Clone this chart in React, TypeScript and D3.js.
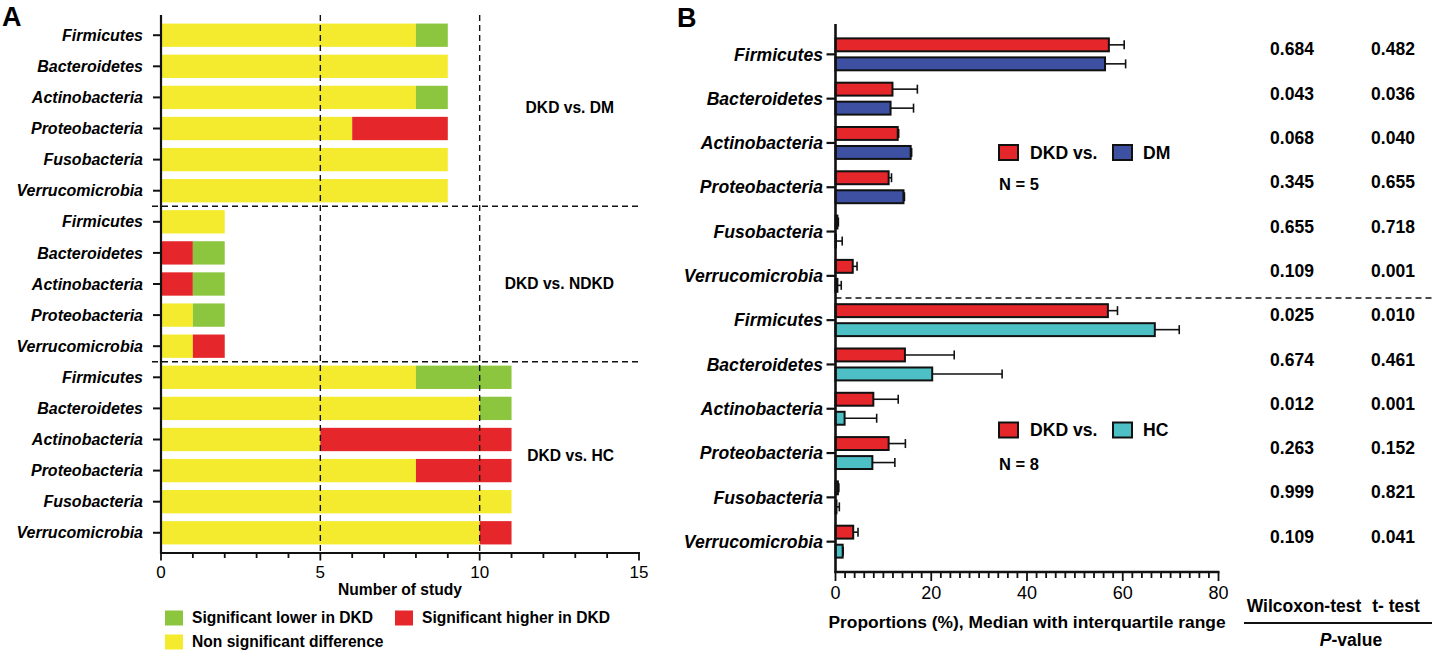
import * as d3 from 'd3'

const FONT = '"Liberation Sans", Arial, Helvetica, sans-serif'

// ---- Panel A: number of studies per outcome ----
const comparisons = ['DKD vs. DM', 'DKD vs. NDKD', 'DKD vs. HC']
const phylaDM = ['Firmicutes', 'Bacteroidetes', 'Actinobacteria', 'Proteobacteria', 'Fusobacteria', 'Verrucomicrobia']
const phylaNDKD = ['Firmicutes', 'Bacteroidetes', 'Actinobacteria', 'Proteobacteria', 'Verrucomicrobia']
const phylaHC = ['Firmicutes', 'Bacteroidetes', 'Actinobacteria', 'Proteobacteria', 'Fusobacteria', 'Verrucomicrobia']

const nonSigDM = [8, 9, 8, 6, 9, 9]
const higherDM = [0, 0, 0, 3, 0, 0]
const lowerDM = [1, 0, 1, 0, 0, 0]
const nonSigNDKD = [2, 0, 0, 1, 1]
const higherNDKD = [0, 1, 1, 0, 1]
const lowerNDKD = [0, 1, 1, 1, 0]
const nonSigHC = [8, 10, 5, 8, 11, 10]
const higherHC = [0, 0, 6, 3, 0, 1]
const lowerHC = [3, 1, 0, 0, 0, 0]

const xTicksA = [0, 5, 10, 15]
const legendA = [
  { key: 'lower', label: 'Significant lower in DKD' },
  { key: 'higher', label: 'Significant higher in DKD' },
  { key: 'nonSig', label: 'Non significant difference' }
]
const colorA: Record<string, string> = { nonSig: '#f4eb2f', higher: '#e5262b', lower: '#8cc63f' }

// ---- Panel B: proportions (median, upper quartile) ----
const phylaB = ['Firmicutes', 'Bacteroidetes', 'Actinobacteria', 'Proteobacteria', 'Fusobacteria', 'Verrucomicrobia']
const dkdVsDM = [57.1, 11.9, 13.0, 11.1, 0.4, 3.6]
const dkdVsDMq3 = [60.3, 17.1, 13.2, 11.7, 0.6, 4.5]
const dm = [56.3, 11.5, 15.7, 14.2, 0.1, 0.4]
const dmQ3 = [60.6, 16.3, 15.9, 14.4, 1.4, 1.2]
const dkdVsHC = [56.9, 14.5, 7.9, 11.1, 0.5, 3.7]
const dkdVsHCq3 = [58.9, 24.8, 13.1, 14.6, 0.7, 4.7]
const hc = [66.7, 20.2, 1.9, 7.7, 0.2, 1.5]
const hcQ3 = [71.8, 34.8, 8.6, 12.4, 0.8, 1.6]

const wilcoxonDM = ['0.684', '0.043', '0.068', '0.345', '0.655', '0.109']
const tTestDM = ['0.482', '0.036', '0.040', '0.655', '0.718', '0.001']
const wilcoxonHC = ['0.025', '0.674', '0.012', '0.263', '0.999', '0.109']
const tTestHC = ['0.010', '0.461', '0.001', '0.152', '0.821', '0.041']

const xTicksB = [0, 20, 40, 60, 80]
const controlNames = ['DM', 'HC']
const sampleSizes = ['N = 5', 'N = 8']
const colorDKD = '#e5262b'
const colorCtrl = ['#3d50a2', '#4dc0c6']

type RowA = { group: number; phylum: string; nonSig: number; higher: number; lower: number }

const rowsA: RowA[] = [
  ...phylaDM.map((p, i) => ({ group: 0, phylum: p, nonSig: nonSigDM[i], higher: higherDM[i], lower: lowerDM[i] })),
  ...phylaNDKD.map((p, i) => ({ group: 1, phylum: p, nonSig: nonSigNDKD[i], higher: higherNDKD[i], lower: lowerNDKD[i] })),
  ...phylaHC.map((p, i) => ({ group: 2, phylum: p, nonSig: nonSigHC[i], higher: higherHC[i], lower: lowerHC[i] }))
]

const rowsB = [
  ...phylaB.map((p, i) => ({ group: 0, phylum: p, dkd: dkdVsDM[i], dkdQ3: dkdVsDMq3[i], ctrl: dm[i], ctrlQ3: dmQ3[i], w: wilcoxonDM[i], t: tTestDM[i] })),
  ...phylaB.map((p, i) => ({ group: 1, phylum: p, dkd: dkdVsHC[i], dkdQ3: dkdVsHCq3[i], ctrl: hc[i], ctrlQ3: hcQ3[i], w: wilcoxonHC[i], t: tTestHC[i] }))
]

function PanelA() {
  const top = 15
  const bottom = 553
  const x = d3.scaleLinear().domain([0, 15]).range([161, 639])
  const y = d3.scaleBand<string>()
    .domain(rowsA.map((_, i) => String(i)))
    .range([top, bottom])
    .paddingInner(0.25)
    .paddingOuter(0.275)
  const bw = y.bandwidth()
  const stack = d3.stack<RowA>().keys(['nonSig', 'higher', 'lower'])
  const series = stack(rowsA)

  // dashed separators between groups
  const separators: number[] = []
  rowsA.forEach((r, i) => {
    if (i > 0 && rowsA[i - 1].group !== r.group) {
      separators.push(((y(String(i - 1)) as number) + bw + (y(String(i)) as number)) / 2)
    }
  })

  const groupLabelY = [108, 284, 456]
  const minor = d3.range(0, 16)

  return (
    <g fontFamily={FONT}>
      <text x={2} y={26} fontSize={27} fontWeight="bold">A</text>

      {series.map(s => (
        <g key={s.key} fill={colorA[s.key]}>
          {s.map((d, i) => d[1] > d[0] ? (
            <rect key={i} x={x(d[0])} y={y(String(i))} width={x(d[1]) - x(d[0])} height={bw} />
          ) : null)}
        </g>
      ))}

      {[5, 10].map(v => (
        <line key={v} x1={x(v)} x2={x(v)} y1={top} y2={bottom} stroke="#111" strokeWidth={1.4} strokeDasharray="6,4" />
      ))}
      {separators.map((sy, i) => (
        <line key={i} x1={152} x2={x(15)} y1={sy} y2={sy} stroke="#111" strokeWidth={1.4} strokeDasharray="6,4" />
      ))}

      {/* y axis */}
      <line x1={x(0)} x2={x(0)} y1={top} y2={bottom + 1} stroke="#111" strokeWidth={2.2} />
      {rowsA.map((r, i) => {
        const cy = (y(String(i)) as number) + bw / 2
        return (
          <g key={i}>
            <line x1={x(0) - 8} x2={x(0)} y1={cy} y2={cy} stroke="#111" strokeWidth={2} />
            <text x={143} y={cy} dy="0.35em" textAnchor="end" fontSize={16} fontWeight="bold" fontStyle="italic">{r.phylum}</text>
          </g>
        )
      })}

      {/* x axis */}
      <line x1={x(0) - 1} x2={x(15) + 1} y1={bottom} y2={bottom} stroke="#111" strokeWidth={2.2} />
      {minor.map(v => (
        <line key={v} x1={x(v)} x2={x(v)} y1={bottom} y2={bottom + (v % 5 === 0 ? 7.5 : 5)} stroke="#111" strokeWidth={1.8} />
      ))}
      {xTicksA.map(v => (
        <text key={v} x={x(v)} y={572} dy="0.35em" textAnchor="middle" fontSize={17}>{v}</text>
      ))}
      <text x={(x(0) + x(15)) / 2} y={590} dy="0.35em" textAnchor="middle" fontSize={15.6} fontWeight="bold">Number of study</text>

      {comparisons.map((c, i) => (
        <text key={c} x={614} y={groupLabelY[i]} dy="0.35em" textAnchor="end" fontSize={15.6} fontWeight="bold">{c}</text>
      ))}

      {/* legend */}
      {legendA.map((l, i) => {
        const lx = i === 1 ? 395 : 165
        const ly = i === 2 ? 642 : 618
        return (
          <g key={l.key}>
            <rect x={lx} y={ly - 7.5} width={18} height={15} fill={colorA[l.key]} />
            <text x={lx + 27} y={ly} dy="0.35em" fontSize={15.6} fontWeight="bold">{l.label}</text>
          </g>
        )
      })}
    </g>
  )
}

function PanelB() {
  const top = 24
  const bottom = 572
  const x = d3.scaleLinear().domain([0, 80]).range([835.5, 1218.5])
  const y = d3.scalePoint<string>()
    .domain(rowsB.map((_, i) => String(i)))
    .range([top, bottom])
    .padding(0.685)
  const sub = d3.scaleBand<string>().domain(['dkd', 'ctrl']).range([-19, 19]).paddingInner(0.32).paddingOuter(0.16)
  const bh = sub.bandwidth()
  const sepY = ((y('5') as number) + (y('6') as number)) / 2
  const minor = d3.range(0, 81, 2)
  const legendY = [152.5, 430]
  const nY = [184, 464]
  const colW = 1292
  const colT = 1393

  return (
    <g fontFamily={FONT}>
      <text x={677} y={27} fontSize={27} fontWeight="bold">B</text>

      <line x1={x(0)} x2={1432} y1={sepY} y2={sepY} stroke="#111" strokeWidth={1.4} strokeDasharray="6,4" />

      {rowsB.map((r, i) => {
        const cy = y(String(i)) as number
        const bars = [
          { key: 'dkd', v: r.dkd, q3: r.dkdQ3, fill: colorDKD },
          { key: 'ctrl', v: r.ctrl, q3: r.ctrlQ3, fill: colorCtrl[r.group] }
        ]
        return (
          <g key={i}>
            {bars.map(b => {
              const by = cy + (sub(b.key) as number)
              const mid = by + bh / 2
              return (
                <g key={b.key}>
                  <line x1={x(b.v)} x2={x(b.q3)} y1={mid} y2={mid} stroke="#111" strokeWidth={1.6} />
                  <line x1={x(b.q3)} x2={x(b.q3)} y1={mid - 4.5} y2={mid + 4.5} stroke="#111" strokeWidth={1.6} />
                  <rect x={x(0)} y={by} width={Math.max(x(b.v) - x(0), 0.5)} height={bh} fill={b.fill} stroke="#111" strokeWidth={2} />
                </g>
              )
            })}
            <line x1={x(0) - 9} x2={x(0)} y1={cy} y2={cy} stroke="#111" strokeWidth={2.2} />
            <text x={823} y={cy} dy="0.35em" textAnchor="end" fontSize={17.6} fontWeight="bold" fontStyle="italic">{r.phylum}</text>
            <text x={colW} y={cy - 5} dy="0.35em" textAnchor="middle" fontSize={17.5} fontWeight="bold">{r.w}</text>
            <text x={colT} y={cy - 5} dy="0.35em" textAnchor="middle" fontSize={17.5} fontWeight="bold">{r.t}</text>
          </g>
        )
      })}

      {/* axes */}
      <line x1={x(0)} x2={x(0)} y1={top} y2={bottom + 1} stroke="#111" strokeWidth={2.6} />
      <line x1={x(0) - 1} x2={x(80) + 1} y1={bottom} y2={bottom} stroke="#111" strokeWidth={2.6} />
      {minor.map(v => (
        <line key={v} x1={x(v)} x2={x(v)} y1={bottom} y2={bottom + (v % 20 === 0 ? 9 : 6)} stroke="#111" strokeWidth={1.8} />
      ))}
      {xTicksB.map(v => (
        <text key={v} x={x(v)} y={593} dy="0.35em" textAnchor="middle" fontSize={18}>{v}</text>
      ))}
      <text x={(x(0) + x(80)) / 2} y={622} dy="0.35em" textAnchor="middle" fontSize={17.4} fontWeight="bold">
        Proportions (%), Median with interquartile range
      </text>

      {/* group legends */}
      {controlNames.map((c, g) => (
        <g key={c}>
          <rect x={999} y={legendY[g] - 7.5} width={19} height={15} fill={colorDKD} stroke="#111" strokeWidth={2} />
          <text x={1030} y={legendY[g]} dy="0.35em" fontSize={17.6} fontWeight="bold">DKD vs.</text>
          <rect x={1113} y={legendY[g] - 7.5} width={19} height={15} fill={colorCtrl[g]} stroke="#111" strokeWidth={2} />
          <text x={1143} y={legendY[g]} dy="0.35em" fontSize={17.6} fontWeight="bold">{c}</text>
          <text x={999} y={nY[g]} dy="0.35em" fontSize={16.5} fontWeight="bold">{sampleSizes[g]}</text>
        </g>
      ))}

      {/* p-value header */}
      <text x={1304} y={606} dy="0.35em" textAnchor="middle" fontSize={17.5} fontWeight="bold">Wilcoxon-test</text>
      <text x={1396} y={606} dy="0.35em" textAnchor="middle" fontSize={17.5} fontWeight="bold">t- test</text>
      <line x1={1244} x2={1432} y1={623} y2={623} stroke="#111" strokeWidth={2} />
      <text x={1351} y={640} dy="0.35em" textAnchor="middle" fontSize={17.5} fontWeight="bold">
        <tspan fontStyle="italic">P</tspan>-value
      </text>
    </g>
  )
}

export default function App() {
  return (
    <svg width={1432} height={652} viewBox="0 0 1432 652" style={{ position: 'absolute', left: 0, top: 0, background: '#fff' }}>
      <rect width={1432} height={652} fill="#fff" />
      <PanelA />
      <PanelB />
    </svg>
  )
}
